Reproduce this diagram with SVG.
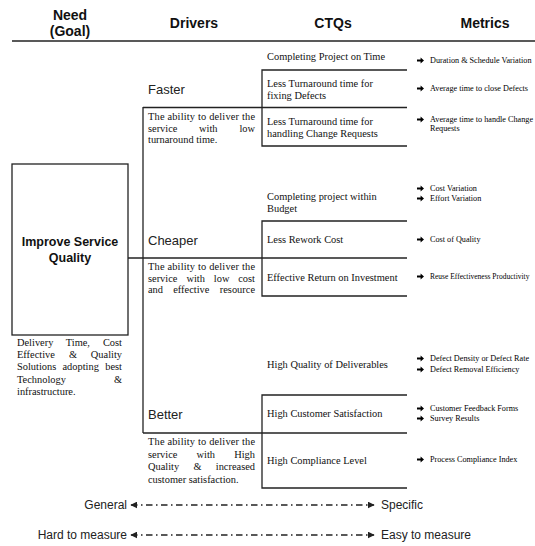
<svg xmlns="http://www.w3.org/2000/svg" xmlns:xlink="http://www.w3.org/1999/xlink" width="535" height="546" viewBox="0 0 535 546">
  <style>
    .hd { font-family: "Liberation Sans", Arial, sans-serif; font-size: 14px; font-weight: bold; fill: #111; }
    .drv { font-family: "Liberation Sans", Arial, sans-serif; font-size: 13px; fill: #222; }
    .goal { font-family: "Liberation Sans", Arial, sans-serif; font-size: 12.5px; font-weight: bold; fill: #111; }
    .desc { font-family: "Liberation Serif", "Times New Roman", serif; font-size: 10.4px; fill: #111; }
    .ctq { font-family: "Liberation Serif", "Times New Roman", serif; font-size: 10.4px; fill: #111; }
    .met { font-family: "Liberation Serif", "Times New Roman", serif; font-size: 8.2px; fill: #000; }
    .scale { font-family: "Liberation Sans", Arial, sans-serif; font-size: 12px; fill: #222; }
    .ln { stroke: #222; stroke-width: 1.3; fill: none; }
    .dd { stroke: #222; stroke-width: 1.4; fill: none; stroke-dasharray: 6.5 3.5 1.5 3.5; }
  </style>
  <defs>
    <!-- bold bullet arrow used before each metric -->
    <path id="ba" d="M0,-1.1 H3.6 V-3 L7,0 L3.6,3 V1.1 H0 Z" fill="#000"/>
    <marker id="ah" viewBox="0 0 10 10" refX="9" refY="5" markerWidth="7" markerHeight="7" markerUnits="userSpaceOnUse" orient="auto-start-reverse">
      <path d="M0,0 L10,5 L0,10 Z" fill="#222"/>
    </marker>
  </defs>

  <rect width="535" height="546" fill="#fff"/>

  <!-- column headings -->
  <g id="headings">
    <text class="hd" x="70" y="20" text-anchor="middle">Need</text>
    <text class="hd" x="70" y="36" text-anchor="middle">(Goal)</text>
    <text class="hd" x="194" y="28" text-anchor="middle">Drivers</text>
    <text class="hd" x="333" y="28" text-anchor="middle">CTQs</text>
    <text class="hd" x="485" y="28" text-anchor="middle">Metrics</text>
    <line class="ln" x1="12" y1="41" x2="535" y2="41" stroke-width="1.6"/>
  </g>

  <!-- tree connectors -->
  <g id="connectors">
    <line class="ln" x1="143" y1="107" x2="143" y2="433"/>
    <line class="ln" x1="143" y1="107.5" x2="407" y2="107.5"/>
    <line class="ln" x1="128" y1="258" x2="407" y2="258"/>
    <line class="ln" x1="143" y1="433" x2="407" y2="433"/>
    <!-- CTQ brackets -->
    <path class="ln" d="M407,70 H262 V146 H407"/>
    <path class="ln" d="M407,221 H262 V296 H407"/>
    <path class="ln" d="M407,395 H262 V488 H407"/>
  </g>

  <!-- goal -->
  <g id="need">
    <rect class="ln" x="12" y="164" width="116" height="171"/>
    <text class="goal" x="70" y="246" text-anchor="middle">Improve Service</text>
    <text class="goal" x="70" y="262" text-anchor="middle">Quality</text>
    <text class="desc">
      <tspan x="17" y="346">Delivery</tspan><tspan x="65.8" y="346">Time,</tspan><tspan x="122" y="346" text-anchor="end">Cost</tspan>
    </text>
    <text class="desc">
      <tspan x="17" y="358">Effective</tspan><tspan x="68.9" y="358">&amp;</tspan><tspan x="122" y="358" text-anchor="end">Quality</tspan>
    </text>
    <text class="desc">
      <tspan x="17" y="370">Solutions</tspan><tspan x="62.5" y="370">adopting</tspan><tspan x="122" y="370" text-anchor="end">best</tspan>
    </text>
    <text class="desc">
      <tspan x="17" y="383">Technology</tspan><tspan x="122" y="383" text-anchor="end">&amp;</tspan>
    </text>
    <text class="desc" x="17" y="395">infrastructure.</text>
  </g>

  <!-- drivers -->
  <g id="driver-faster">
    <text class="drv" x="148" y="94">Faster</text>
    <text class="desc" x="148" y="120" textLength="107" lengthAdjust="spacing">The ability to deliver the</text>
    <text class="desc">
      <tspan x="148" y="131.5">service</tspan><tspan x="199" y="131.5">with</tspan><tspan x="255" y="131.5" text-anchor="end">low</tspan>
    </text>
    <text class="desc" x="148" y="143">turnaround time.</text>
  </g>

  <g id="driver-cheaper">
    <text class="drv" x="148" y="245">Cheaper</text>
    <text class="desc" x="148" y="270" textLength="107" lengthAdjust="spacing">The ability to deliver the</text>
    <text class="desc">
      <tspan x="148" y="281.5">service</tspan><tspan x="186.4" y="281.5">with</tspan><tspan x="213.8" y="281.5">low</tspan><tspan x="255" y="281.5" text-anchor="end">cost</tspan>
    </text>
    <text class="desc">
      <tspan x="148" y="293">and</tspan><tspan x="173.2" y="293">effective</tspan><tspan x="255" y="293" text-anchor="end">resource</tspan>
    </text>
  </g>

  <g id="driver-better">
    <text class="drv" x="148" y="419">Better</text>
    <text class="desc" x="148" y="445" textLength="107" lengthAdjust="spacing">The ability to deliver the</text>
    <text class="desc">
      <tspan x="148" y="457.5">service</tspan><tspan x="196.6" y="457.5">with</tspan><tspan x="255" y="457.5" text-anchor="end">High</tspan>
    </text>
    <text class="desc">
      <tspan x="148" y="470">Quality</tspan><tspan x="193.4" y="470">&amp;</tspan><tspan x="255" y="470" text-anchor="end">increased</tspan>
    </text>
    <text class="desc" x="148" y="482.5">customer satisfaction.</text>
  </g>

  <!-- CTQs -->
  <g id="ctq-time"><text class="ctq" x="267" y="60">Completing Project on Time</text></g>
  <g id="ctq-defects">
    <text class="ctq" x="267" y="87">Less Turnaround time for</text>
    <text class="ctq" x="267" y="99">fixing Defects</text>
  </g>
  <g id="ctq-change">
    <text class="ctq" x="267" y="124.5">Less Turnaround time for</text>
    <text class="ctq" x="267" y="137">handling Change Requests</text>
  </g>
  <g id="ctq-budget">
    <text class="ctq" x="267" y="200">Completing project within</text>
    <text class="ctq" x="267" y="212">Budget</text>
  </g>
  <g id="ctq-rework"><text class="ctq" x="267" y="243">Less Rework Cost</text></g>
  <g id="ctq-roi"><text class="ctq" x="267" y="281">Effective Return on Investment</text></g>
  <g id="ctq-deliverables"><text class="ctq" x="267" y="368">High Quality of Deliverables</text></g>
  <g id="ctq-satisfaction"><text class="ctq" x="267" y="417">High Customer Satisfaction</text></g>
  <g id="ctq-compliance"><text class="ctq" x="267" y="464">High Compliance Level</text></g>

  <!-- metrics -->
  <g id="metrics">
    <use xlink:href="#ba" x="417" y="60.5"/><text class="met" x="430" y="63">Duration &amp; Schedule Variation</text>
    <use xlink:href="#ba" x="417" y="88.5"/><text class="met" x="430" y="91">Average time to close Defects</text>
    <use xlink:href="#ba" x="417" y="119.5"/><text class="met" x="430" y="122">Average time to handle Change</text>
    <text class="met" x="430" y="131">Requests</text>
    <use xlink:href="#ba" x="417" y="188.5"/><text class="met" x="430" y="191">Cost Variation</text>
    <use xlink:href="#ba" x="417" y="198.5"/><text class="met" x="430" y="201">Effort Variation</text>
    <use xlink:href="#ba" x="417" y="239.5"/><text class="met" x="430" y="242">Cost of Quality</text>
    <use xlink:href="#ba" x="417" y="276.5"/><text class="met" x="430" y="279" style="font-size:7.5px">Reuse Effectiveness Productivity</text>
    <use xlink:href="#ba" x="417" y="358.5"/><text class="met" x="430" y="361">Defect Density or Defect Rate</text>
    <use xlink:href="#ba" x="417" y="369.5"/><text class="met" x="430" y="372">Defect Removal Efficiency</text>
    <use xlink:href="#ba" x="417" y="408.5"/><text class="met" x="430" y="411">Customer Feedback Forms</text>
    <use xlink:href="#ba" x="417" y="418.5"/><text class="met" x="430" y="421">Survey Results</text>
    <use xlink:href="#ba" x="417" y="459.5"/><text class="met" x="430" y="462">Process Compliance Index</text>
  </g>

  <!-- scales -->
  <g id="scale-specificity">
    <text class="scale" x="127" y="509" text-anchor="end">General</text>
    <line class="dd" x1="131" y1="505" x2="374" y2="505" marker-start="url(#ah)" marker-end="url(#ah)"/>
    <text class="scale" x="381" y="509">Specific</text>
  </g>
  <g id="scale-measurability">
    <text class="scale" x="127" y="539" text-anchor="end">Hard to measure</text>
    <line class="dd" x1="131" y1="535" x2="374" y2="535" marker-start="url(#ah)" marker-end="url(#ah)"/>
    <text class="scale" x="381" y="539">Easy to measure</text>
  </g>
</svg>
